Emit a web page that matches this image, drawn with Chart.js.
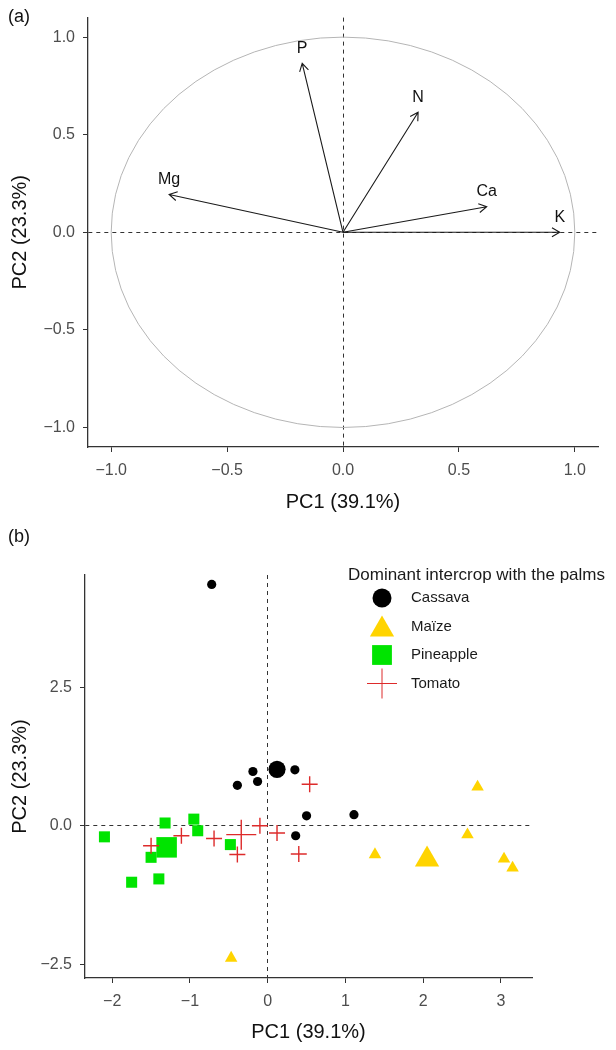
<!DOCTYPE html>
<html>
<head>
<meta charset="utf-8">
<script src="https://cdn.jsdelivr.net/npm/chart.js@4.4.0/dist/chart.umd.min.js"></script>
<style>
  html, body { margin: 0; padding: 0; background: #fff; }
  #wrapA { position: absolute; left: 0; top: 0; width: 616px; height: 520px; }
  #wrapB { position: absolute; left: 0; top: 520px; width: 616px; height: 530px; }
</style>
</head>
<body>
<div id="wrapA"><canvas id="pcaVars" width="616" height="520"></canvas></div>
<div id="wrapB"><canvas id="pcaInd" width="616" height="530"></canvas></div>
<script>
// (a) variable loadings on PC1 / PC2
const varNames = ['P', 'N', 'Mg', 'Ca', 'K'];
const loadPC1 = [-0.176, 0.324, -0.75, 0.62, 0.935];
const loadPC2 = [0.866, 0.615, 0.194, 0.131, 0.0];
const ticksA = [-1.0, -0.5, 0.0, 0.5, 1.0];

// (b) individual scores, grouped by intercrop
const groupNames = ['Cassava', 'Maïze', 'Pineapple', 'Tomato'];
const cassavaPC1 = [-0.72, -0.19, 0.35, -0.39, -0.13, 0.50, 1.11, 0.36];
const cassavaPC2 = [4.36, 0.98, 1.01, 0.73, 0.80, 0.18, 0.20, -0.18];
const maizePC1 = [2.70, 2.57, 1.38, 3.04, 3.15, -0.47];
const maizePC2 = [0.70, -0.16, -0.52, -0.60, -0.76, -2.39];
const pineapplePC1 = [-2.10, -1.32, -0.95, -0.90, -1.50, -1.75, -1.40, -0.48];
const pineapplePC2 = [-0.20, 0.05, 0.12, -0.09, -0.57, -1.02, -0.96, -0.34];
const tomatoPC1 = [0.54, -1.50, -1.11, -0.69, -0.39, -0.10, 0.12, 0.40];
const tomatoPC2 = [0.75, -0.36, -0.18, -0.23, -0.52, 0.00, -0.13, -0.51];
// group centroids (large symbols)
const meanPC1 = [0.12, 2.05, -1.30, -0.34];
const meanPC2 = [1.02, -0.61, -0.39, -0.16];
const ticksBx = [-2, -1, 0, 1, 2, 3];
const ticksBy = [-2.5, 0.0, 2.5];

Chart.defaults.font.family = '"Liberation Sans", Arial, sans-serif';
Chart.defaults.animation = false;

const fmt = (v, d) => (v < 0 ? '\u2212' : '') + Math.abs(v).toFixed(d);
const toXY = (xs, ys) => xs.map((x, i) => ({ x: x, y: ys[i] }));

// shared axis look: left + bottom lines, short outward ticks, dashed zero line
function axis(min, max, tickVals, digits, title, fitSize, horizontal, tickPad) {
  return {
    type: 'linear',
    min: min,
    max: max,
    afterBuildTicks: s => { s.ticks = tickVals.map(v => ({ value: v })); },
    afterFit: s => { if (horizontal) s.height = fitSize; else s.width = fitSize; },
    grid: {
      drawOnChartArea: true,
      color: c => (c.tick && c.tick.value === 0 ? '#333' : 'rgba(0,0,0,0)'),
      tickColor: '#333',
      tickLength: 5,
      lineWidth: 1
    },
    border: { display: true, color: '#333', width: 1.3, dash: [4, 4] },
    ticks: {
      color: '#4d4d4d',
      font: { size: 16 },
      padding: tickPad,
      callback: v => fmt(v, digits)
    },
    title: {
      display: true,
      text: title,
      color: '#111',
      font: { size: 20 },
      padding: horizontal ? { top: 0, bottom: 6 } : { top: 8, bottom: 0 }
    }
  };
}

function panelLabel(text) {
  return {
    id: 'panelLabel',
    afterDraw(chart) {
      const ctx = chart.ctx;
      ctx.save();
      ctx.fillStyle = '#111';
      ctx.font = '18px "Liberation Sans", Arial, sans-serif';
      ctx.textBaseline = 'middle';
      ctx.fillText(text, 8, 17);
      ctx.restore();
    }
  };
}

// correlation circle and loading arrows
const circleArrows = {
  id: 'circleArrows',
  beforeDatasetsDraw(chart) {
    const { ctx, scales: { x, y } } = chart;
    const cx = x.getPixelForValue(0), cy = y.getPixelForValue(0);
    const rx = x.getPixelForValue(1) - cx, ry = cy - y.getPixelForValue(1);
    ctx.save();
    ctx.strokeStyle = '#b5b5b5';
    ctx.lineWidth = 1;
    ctx.beginPath();
    ctx.ellipse(cx, cy, rx, ry, 0, 0, Math.PI * 2);
    ctx.stroke();
    ctx.restore();
  },
  afterDatasetsDraw(chart) {
    const { ctx, scales: { x, y } } = chart;
    const ox = x.getPixelForValue(0), oy = y.getPixelForValue(0);
    ctx.save();
    ctx.strokeStyle = '#1a1a1a';
    ctx.fillStyle = '#111';
    ctx.lineWidth = 1.1;
    ctx.font = '16px "Liberation Sans", Arial, sans-serif';
    ctx.textAlign = 'center';
    ctx.textBaseline = 'middle';
    varNames.forEach((name, i) => {
      const tx = x.getPixelForValue(loadPC1[i]);
      const ty = y.getPixelForValue(loadPC2[i]);
      const ang = Math.atan2(ty - oy, tx - ox);
      const head = 9;
      ctx.beginPath();
      ctx.moveTo(ox, oy);
      ctx.lineTo(tx, ty);
      ctx.moveTo(tx - head * Math.cos(ang - Math.PI / 6), ty - head * Math.sin(ang - Math.PI / 6));
      ctx.lineTo(tx, ty);
      ctx.lineTo(tx - head * Math.cos(ang + Math.PI / 6), ty - head * Math.sin(ang + Math.PI / 6));
      ctx.stroke();
      ctx.fillText(name, tx, ty - 15);
    });
    ctx.restore();
  }
};

new Chart(document.getElementById('pcaVars'), {
  type: 'scatter',
  data: {
    datasets: [{ data: toXY(loadPC1, loadPC2), pointRadius: 0 }]
  },
  options: {
    responsive: false,
    events: [],
    layout: { padding: { top: 14, right: 18, bottom: 0, left: 0 } },
    plugins: { legend: { display: false }, tooltip: { enabled: false } },
    scales: {
      x: axis(-1.1, 1.1, ticksA, 1, 'PC1 (39.1%)', 73, true, 9),
      y: axis(-1.1, 1.1, ticksA, 1, 'PC2 (23.3%)', 88, false, 8)
    }
  },
  plugins: [circleArrows, panelLabel('(a)')]
});

// (b) scatter of individuals
const groupStyle = [
  { shape: 'circle', color: '#000000', small: 4.6, big: 8.6, legend: 9.5 },
  { shape: 'triangle', color: '#ffd400', small: 7.2, big: 14, legend: 14 },
  { shape: 'rect', color: '#00e400', small: 7.8, big: 14.5, legend: 14 },
  { shape: 'cross', color: '#dd2b2b', small: 8, big: 15, legend: 15 }
];
const groupData = [
  toXY(cassavaPC1, cassavaPC2),
  toXY(maizePC1, maizePC2),
  toXY(pineapplePC1, pineapplePC2),
  toXY(tomatoPC1, tomatoPC2)
];

const datasetsB = [];
groupNames.forEach((g, i) => {
  const st = groupStyle[i];
  const isCross = st.shape === 'cross';
  const base = {
    label: g,
    pointStyle: st.shape,
    backgroundColor: st.color,
    borderColor: st.color,
    borderWidth: isCross ? 1.4 : 0,
    order: groupNames.length - i
  };
  datasetsB.push(Object.assign({}, base, { data: groupData[i], pointRadius: st.small }));
  datasetsB.push(Object.assign({}, base, { data: [{ x: meanPC1[i], y: meanPC2[i] }], pointRadius: st.big }));
});

const legendB = {
  id: 'legendB',
  afterDraw(chart) {
    const ctx = chart.ctx;
    ctx.save();
    ctx.fillStyle = '#1a1a1a';
    ctx.textBaseline = 'middle';
    ctx.font = '17px "Liberation Sans", Arial, sans-serif';
    ctx.fillText('Dominant intercrop with the palms', 348, 55);
    ctx.font = '15px "Liberation Sans", Arial, sans-serif';
    groupNames.forEach((g, i) => {
      const st = groupStyle[i];
      const yy = 78 + i * 28.5;
      ctx.fillStyle = st.color;
      ctx.strokeStyle = st.color;
      Chart.helpers.drawPoint(ctx, {
        pointStyle: st.shape,
        radius: st.legend,
        rotation: 0,
        borderWidth: st.shape === 'cross' ? 1.4 : 0
      }, 382, st.shape === 'triangle' ? yy + 3 : yy);
      ctx.fillStyle = '#1a1a1a';
      ctx.fillText(g, 411, yy);
    });
    ctx.restore();
  }
};

new Chart(document.getElementById('pcaInd'), {
  type: 'scatter',
  data: { datasets: datasetsB },
  options: {
    responsive: false,
    events: [],
    layout: { padding: { top: 55, right: 84, bottom: 0, left: 0 } },
    plugins: { legend: { display: false }, tooltip: { enabled: false } },
    scales: {
      x: axis(-2.35, 3.4, ticksBx, 0, 'PC1 (39.1%)', 72, true, 9),
      y: axis(-2.75, 4.53, ticksBy, 1, 'PC2 (23.3%)', 85, false, 8)
    }
  },
  plugins: [legendB, panelLabel('(b)')]
});
</script>
</body>
</html>
